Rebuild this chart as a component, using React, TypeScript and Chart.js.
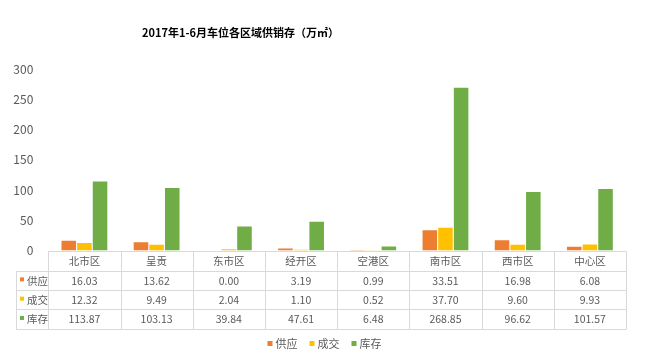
import React, { useEffect, useRef } from "react";
import { Chart, registerables } from "chart.js";

Chart.register(...registerables);

const TITLE = "2017年1-6月车位各区域供销存（万㎡）";
const categories = ["北市区", "呈贡", "东市区", "经开区", "空港区", "南市区", "西市区", "中心区"];
const seriesNames = ["供应", "成交", "库存"];
const supply = [16.03, 13.62, 0.0, 3.19, 0.99, 33.51, 16.98, 6.08];
const deals = [12.32, 9.49, 2.04, 1.1, 0.52, 37.7, 9.6, 9.93];
const stock = [113.87, 103.13, 39.84, 47.61, 6.48, 268.85, 96.62, 101.57];
const colors = ["#ED7D31", "#FFC000", "#70AD47"];
const yTicks = [0, 50, 100, 150, 200, 250, 300];

const FONT = '"Noto Sans CJK SC", "Noto Sans", sans-serif';
const TEXT = "#595959";
const LINE = "#D9D9D9";

const tablePlugin = {
  id: "dataTable",
  afterDraw(chart: any) {
    const ctx = chart.ctx as CanvasRenderingContext2D;
    const { left, right, bottom } = chart.chartArea;
    const xs = chart.scales.x;
    const n = categories.length;
    const colW = (right - left) / n;
    const labelLeft = 16;
    const rowTops = [bottom, bottom + 20.2, bottom + 39.5, bottom + 58.8, bottom + 78.1];
    const series = [supply, deals, stock];

    ctx.save();
    ctx.strokeStyle = LINE;
    ctx.lineWidth = 1;
    const px = (v: number) => Math.round(v) + 0.5;
    ctx.beginPath();
    // horizontal lines
    ctx.moveTo(left, px(rowTops[0]));
    ctx.lineTo(right, px(rowTops[0]));
    for (let r = 1; r < rowTops.length; r++) {
      ctx.moveTo(labelLeft, px(rowTops[r]));
      ctx.lineTo(right, px(rowTops[r]));
    }
    // vertical lines
    for (let c = 0; c <= n; c++) {
      const x = px(left + c * colW);
      ctx.moveTo(x, px(rowTops[0]));
      ctx.lineTo(x, px(rowTops[4]));
    }
    ctx.moveTo(px(labelLeft), px(rowTops[1]));
    ctx.lineTo(px(labelLeft), px(rowTops[4]));
    ctx.stroke();

    ctx.fillStyle = TEXT;
    ctx.textAlign = "center";
    ctx.textBaseline = "middle";
    ctx.font = `10.5px ${FONT}`;
    for (let c = 0; c < n; c++) {
      const cx = xs.getPixelForValue(c);
      ctx.fillText(categories[c], cx, (rowTops[0] + rowTops[1]) / 2 + 0.5);
      for (let s = 0; s < 3; s++) {
        const cy = (rowTops[s + 1] + rowTops[s + 2]) / 2 + 0.5;
        ctx.fillText(series[s][c].toFixed(2), cx, cy);
      }
    }
    // row labels
    ctx.textAlign = "left";
    for (let s = 0; s < 3; s++) {
      const cy = (rowTops[s + 1] + rowTops[s + 2]) / 2;
      ctx.fillStyle = colors[s];
      ctx.fillRect(20, cy - 3, 4, 4);
      ctx.fillStyle = TEXT;
      ctx.fillText(seriesNames[s], 27, cy + 0.5);
    }

    // legend
    ctx.font = `11px ${FONT}`;
    const box = 5;
    const gap = 3;
    const spacing = 12;
    const widths = seriesNames.map((t) => ctx.measureText(t).width);
    const total = widths.reduce((a, w) => a + box + gap + w, 0) + spacing * (seriesNames.length - 1);
    let lx = chart.width / 2 - total / 2;
    const ly = 344;
    for (let s = 0; s < 3; s++) {
      ctx.fillStyle = colors[s];
      ctx.fillRect(lx, ly - 3, box, box);
      lx += box + gap;
      ctx.fillStyle = TEXT;
      ctx.fillText(seriesNames[s], lx, ly);
      lx += widths[s] + spacing;
    }

    // title
    ctx.font = `bold 11px ${FONT}`;
    ctx.fillStyle = "#000000";
    ctx.textAlign = "center";
    ctx.fillText(TITLE, 240.5, 33);
    ctx.restore();
  },
};

export default function App() {
  const ref = useRef<HTMLCanvasElement>(null);
  useEffect(() => {
    document.body.style.margin = "0";
    const chart = new Chart(ref.current!, {
      type: "bar",
      data: {
        labels: categories,
        datasets: [supply, deals, stock].map((d, i) => ({
          label: seriesNames[i],
          data: d,
          backgroundColor: colors[i],
          borderWidth: 0,
          categoryPercentage: 0.65,
          barPercentage: 0.93,
        })),
      },
      options: {
        animation: false,
        responsive: false,
        devicePixelRatio: 1,
        layout: { padding: { top: 69, right: 23, left: 0, bottom: 0 } },
        plugins: {
          legend: { display: false },
          title: { display: false },
          tooltip: { enabled: false },
        },
        scales: {
          x: {
            grid: { display: false, drawTicks: false },
            border: { display: false },
            ticks: { display: false },
            afterFit: (s: any) => {
              s.height = 107.5;
            },
          },
          y: {
            min: 0,
            max: 300,
            afterBuildTicks: (s: any) => {
              s.ticks = yTicks.map((v) => ({ value: v }));
            },
            grid: { display: false, drawTicks: false },
            border: { display: false },
            ticks: {
              padding: 15,
              color: TEXT,
              font: { family: FONT, size: 12 },
            },
            afterFit: (s: any) => {
              s.width = 48.3;
            },
          },
        },
      },
      plugins: [tablePlugin],
    });
    return () => chart.destroy();
  }, []);
  return <canvas ref={ref} width={649} height={358} />;
}
